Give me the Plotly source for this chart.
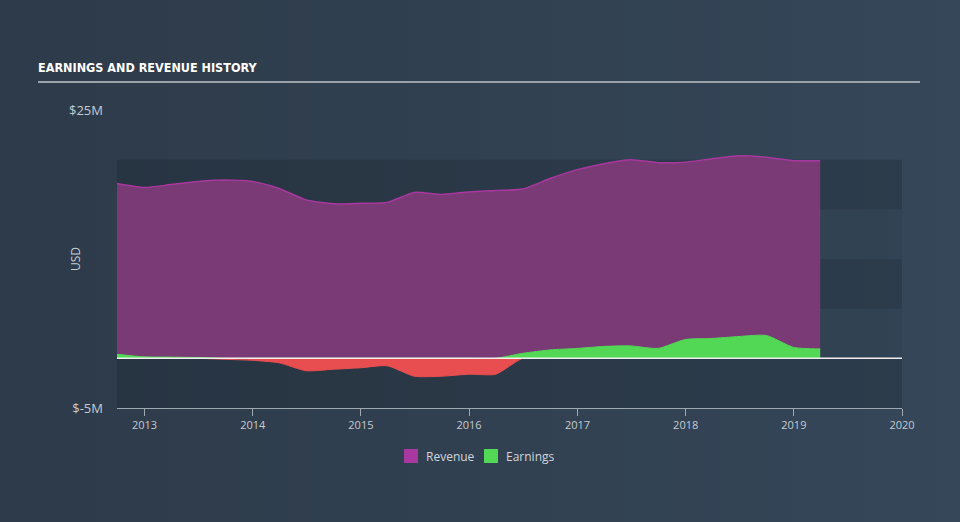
import numpy as np
import plotly.graph_objects as go

# ---- data (USD millions, quarterly) ----
dates = ["2012-09-30", "2012-12-31", "2013-03-31", "2013-06-30", "2013-09-30", "2013-12-31",
         "2014-03-31", "2014-06-30", "2014-09-30", "2014-12-31", "2015-03-31", "2015-06-30",
         "2015-09-30", "2015-12-31", "2016-03-31", "2016-06-30", "2016-09-30", "2016-12-31",
         "2017-03-31", "2017-06-30", "2017-09-30", "2017-12-31", "2018-03-31", "2018-06-30",
         "2018-09-30", "2018-12-31", "2019-03-31"]
revenue = [17.6, 17.2, 17.5, 17.8, 17.95, 17.8,
           17.1, 15.95, 15.55, 15.6, 15.7, 16.7,
           16.5, 16.75, 16.9, 17.05, 18.1, 19.0,
           19.6, 20.0, 19.7, 19.75, 20.1, 20.4,
           20.25, 19.9, 19.9]
earnings = [0.4, 0.15, 0.12, 0.08, -0.1, -0.2,
            -0.45, -1.25, -1.1, -0.95, -0.75, -1.8,
            -1.8, -1.6, -1.6, 0.5, 0.85, 1.0,
            1.2, 1.25, 1.0, 1.9, 2.0, 2.2,
            2.3, 1.1, 0.95]
year_ticks = ["2013", "2014", "2015", "2016", "2017", "2018", "2019", "2020"]
y_tick_vals = [25, -5]
y_tick_text = ["$25M", "$-5M"]
legend_names = ["Revenue", "Earnings"]

REV_LINE = "#a8389f"
REV_FILL = "#7a3a76"
GREEN = "#52d855"
RED = "#e84e50"
TXT = "#c5cbd1"

earn = np.array(earnings)
earn_pos = np.where(earn > 0, earn, 0.0)
earn_neg = np.where(earn < 0, earn, 0.0)

fig = go.Figure()
fig.add_trace(go.Scatter(x=dates, y=revenue, mode="lines", fill="tozeroy", name=legend_names[0],
                         fillcolor=REV_FILL, line=dict(color=REV_LINE, width=1.5, shape="spline", smoothing=0.6),
                         showlegend=False, hoverinfo="skip"))
fig.add_trace(go.Scatter(x=dates, y=earn_neg, mode="lines", fill="tozeroy", name=legend_names[1],
                         fillcolor=RED, line=dict(color=RED, width=1, shape="spline", smoothing=0.6),
                         showlegend=False, hoverinfo="skip"))
fig.add_trace(go.Scatter(x=dates, y=earn_pos, mode="lines", fill="tozeroy", name=legend_names[1],
                         fillcolor=GREEN, line=dict(color=GREEN, width=1, shape="spline", smoothing=0.6),
                         showlegend=False, hoverinfo="skip"))


def px_x(px):
    return (px - 117) / 785


def px_y(py):
    return (408 - py) / 298


shapes = []
# background horizontal gradient
n = 40
c0 = np.array([0x2e, 0x3b, 0x4a])
c1 = np.array([0x35, 0x47, 0x59])
xl, xr = px_x(0), px_x(960)
yb, yt = px_y(522), px_y(0)
for i in range(n):
    c = c0 + (c1 - c0) * i / (n - 1)
    shapes.append(dict(type="rect", xref="paper", yref="paper",
                       x0=xl + (xr - xl) * i / n, x1=xl + (xr - xl) * (i + 1) / n + 0.002,
                       y0=yb, y1=yt, fillcolor="rgb(%d,%d,%d)" % tuple(c.astype(int)),
                       line=dict(width=0), layer="below"))
# bands
band_edges = [20, 15, 10, 5, 0, -5]
for i in range(5):
    col = "rgba(20,28,38,0.22)" if i % 2 == 0 else "rgba(20,28,38,0.07)"
    shapes.append(dict(type="rect", xref="paper", yref="y", x0=0, x1=1,
                       y0=band_edges[i + 1], y1=band_edges[i], fillcolor=col,
                       line=dict(width=0), layer="below"))
# zero line
shapes.append(dict(type="line", xref="paper", yref="y", x0=0, x1=1, y0=0, y1=0,
                   line=dict(color="#f0eef0", width=1.5), layer="above"))
# title underline
shapes.append(dict(type="line", xref="paper", yref="paper",
                   x0=px_x(38), x1=px_x(920), y0=px_y(82), y1=px_y(82),
                   line=dict(color="#9aa1a9", width=2)))
# manual legend swatches
legend_cols = [REV_LINE, GREEN]
sw_x = [404, 484]
txt_x = [424, 504]
for c, sx in zip(legend_cols, sw_x):
    shapes.append(dict(type="rect", xref="paper", yref="paper",
                       x0=px_x(sx), x1=px_x(sx + 14), y0=px_y(463), y1=px_y(449),
                       fillcolor=c, line=dict(width=0)))

annotations = [dict(text="USD", xref="paper", yref="paper", x=px_x(75), y=0.5,
                    textangle=-90, showarrow=False, xanchor="center", yanchor="middle",
                    font=dict(family="Open Sans", size=12, color=TXT))]
for name, tx in zip(legend_names, txt_x):
    annotations.append(dict(text=name, xref="paper", yref="paper", x=px_x(tx), y=px_y(456),
                            xanchor="left", yanchor="middle", showarrow=False,
                            font=dict(family="Open Sans", size=12, color="#d0d5da")))

fig.update_layout(
    width=960, height=522,
    margin=dict(l=117, r=58, t=110, b=114),
    paper_bgcolor="#313f4e", plot_bgcolor="rgba(0,0,0,0)",
    shapes=shapes, annotations=annotations, showlegend=False,
    title=dict(text="<b>EARNINGS AND REVENUE HISTORY</b>", xref="container", yref="container",
               x=38 / 960, xanchor="left", y=1 - 68 / 522, yanchor="middle",
               font=dict(family="DejaVu Sans Condensed, DejaVu Sans", size=12.5, color="#ffffff")),
    xaxis=dict(type="date", range=["2012-09-30", "2020-01-01"],
               tickvals=[y + "-01-01" for y in year_ticks], ticktext=year_ticks,
               showgrid=False, zeroline=False, showline=True, linecolor="#9ea8b2", linewidth=1,
               ticks="outside", ticklen=7, tickcolor="#9ea8b2",
               tickfont=dict(family="Open Sans", size=11, color=TXT)),
    yaxis=dict(range=[-5, 25], tickvals=y_tick_vals, ticktext=y_tick_text,
               showgrid=False, zeroline=False, showline=False, ticks="",
               ticklabelstandoff=13,
               tickfont=dict(family="Open Sans", size=13, color=TXT)),
)
fig.write_html("out.html")
